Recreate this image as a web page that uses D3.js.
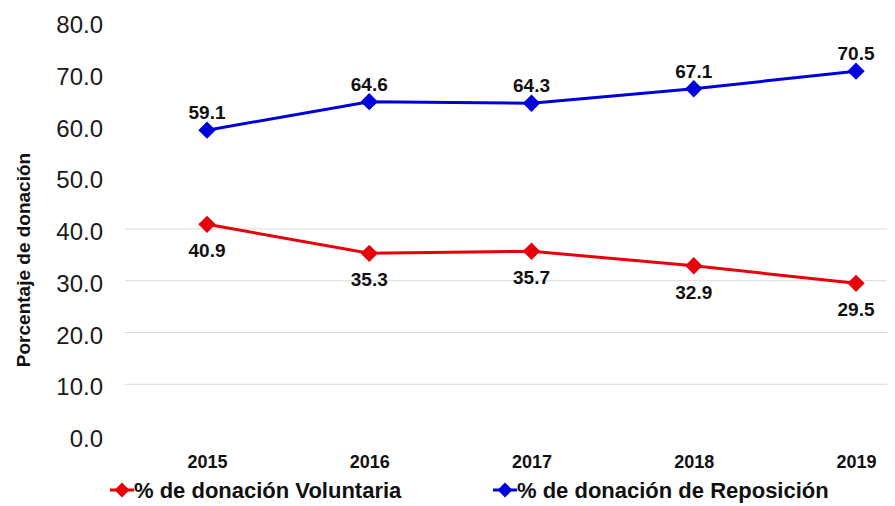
<!DOCTYPE html>
<html><head><meta charset="utf-8">
<script src="https://cdn.jsdelivr.net/npm/d3@7"></script>
<style>body{margin:0;background:#fff}svg{display:block}text{font-family:"Liberation Sans",Arial,sans-serif}</style>
</head><body><svg id="c" width="895" height="506"></svg>
<script>
const years = ["2015","2016","2017","2018","2019"];
const voluntaria = [40.9, 35.3, 35.7, 32.9, 29.5];
const reposicion = [59.1, 64.6, 64.3, 67.1, 70.5];
const yTicks = [0,10,20,30,40,50,60,70,80];
const gridTicks = [10,20,30,40];
const seriesNames = ["% de donación Voluntaria","% de donación de Reposición"];
const colors = ["#e8000b","#0000dd"];

const svg = d3.select("#c");
const x = d3.scalePoint().domain(years).range([207, 856]);
const y = d3.scaleLinear().domain([0,80]).range([436, 22]);

// gridlines
svg.append("g").selectAll("line").data(gridTicks).join("line")
  .attr("x1",125).attr("x2",887).attr("y1",d=>y(d)).attr("y2",d=>y(d))
  .attr("stroke","#d9d9d9").attr("stroke-width",1);

// y axis labels
const ya = svg.append("g").attr("transform","translate(103,0)")
  .call(d3.axisLeft(y).tickValues(yTicks).tickFormat(d3.format(".1f")).tickSize(0).tickPadding(0));
ya.select(".domain").remove();
ya.selectAll("text").attr("font-size",24).attr("fill","#1a1a1a").attr("dy","0.44em")
  .style("font-family","'Liberation Sans',Arial,sans-serif");

// x axis labels
const xa = svg.append("g").attr("transform","translate(0,468)")
  .call(d3.axisBottom(x).tickSize(0).tickPadding(0));
xa.select(".domain").remove();
xa.selectAll("text").attr("font-size",18).attr("font-weight","bold").attr("fill","#111")
  .attr("dy","0").style("font-family","'Liberation Sans',Arial,sans-serif");

// y title
svg.append("text").attr("transform","translate(30,260) rotate(-90)")
  .attr("text-anchor","middle").attr("font-size",19).attr("font-weight","bold").attr("fill","#111")
  .text("Porcentaje de donación");

const line = d3.line().x((d,i)=>x(years[i])).y(d=>y(d));
const diamond = d3.symbol().type(d3.symbolSquare).size(150);

[[voluntaria,1],[reposicion,-1]].forEach(([vals,dir],k)=>{
  svg.append("path").datum(vals).attr("d",line).attr("fill","none")
    .attr("stroke",colors[k]).attr("stroke-width",3);
  svg.append("g").selectAll("path").data(vals).join("path")
    .attr("d",diamond).attr("fill",colors[k])
    .attr("transform",(d,i)=>`translate(${x(years[i])},${y(d)}) rotate(45)`);
  svg.append("g").selectAll("text").data(vals).join("text")
    .attr("x",(d,i)=>x(years[i])).attr("y",d=>y(d)+(dir>0?33:-11))
    .attr("text-anchor","middle").attr("font-size",19).attr("font-weight","bold").attr("fill","#111")
    .text(d=>d.toFixed(1));
});

// legend
const legX = [122, 505];
seriesNames.forEach((n,k)=>{
  const g = svg.append("g").attr("transform",`translate(${legX[k]},490)`);
  g.append("line").attr("x1",-12).attr("x2",12).attr("stroke",colors[k]).attr("stroke-width",3);
  g.append("path").attr("d",d3.symbol().type(d3.symbolSquare).size(110)).attr("transform","rotate(45)").attr("fill",colors[k]);
  g.append("text").attr("x",12).attr("y",8).attr("font-size",22).attr("font-weight","bold")
    .attr("fill","#111").text(n);
});
</script></body></html>
